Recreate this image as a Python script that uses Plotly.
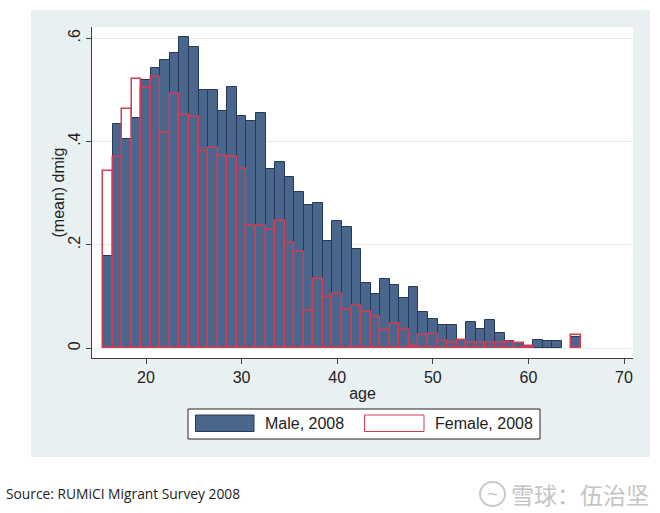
import plotly.graph_objects as go

# ---- data ----
ages = list(range(16, 66))
male_2008 = [0.179, 0.434, 0.406, 0.446, 0.519, 0.542, 0.557, 0.572, 0.603, 0.584,
             0.499, 0.499, 0.459, 0.506, 0.450, 0.440, 0.456, 0.347, 0.360, 0.332,
             0.303, 0.277, 0.281, 0.208, 0.246, 0.234, 0.193, 0.127, 0.106, 0.134,
             0.122, 0.098, 0.118, 0.071, 0.056, 0.045, 0.045, 0.017, 0.050, 0.037,
             0.055, 0.029, 0.014, 0.011, 0.005, 0.017, 0.015, 0.015, None, 0.021]
female_2008 = [0.343, 0.371, 0.463, 0.522, 0.503, 0.526, 0.417, 0.493, 0.451, 0.448,
               0.382, 0.387, 0.373, 0.371, 0.347, 0.237, 0.237, 0.228, 0.246, 0.203,
               0.187, 0.073, 0.134, 0.099, 0.106, 0.074, 0.082, 0.070, 0.061, 0.035,
               0.047, 0.035, 0.004, 0.026, 0.027, 0.015, 0.010, 0.017, 0.010, 0.010,
               0.011, 0.011, 0.013, 0.010, 0.005, None, None, None, None, 0.026]
series_names = ["Male, 2008", "Female, 2008"]
x_ticks = [20, 30, 40, 50, 60, 70]
y_ticks = [0, 0.2, 0.4, 0.6]
y_ticktext = ["0", ".2", ".4", ".6"]
x_title = "age"
y_title = "(mean) dmig"
source_text = "Source: RUMiCI Migrant Survey 2008"
watermark_text = "雪球：伍治坚"

# ---- styling ----
W, H = 660, 513
L, R, T, B = 92, 27, 27, 155
PW, PH = W - L - R, H - T - B
MALE_FILL = "#4a668c"
MALE_LINE = "#263a57"
FEM_LINE = "#d63a52"
PANEL = "#e9f0f1"
GRID = "#e3e9ea"
AXIS = "#404040"
FONT = "Liberation Sans"
TXT = "#222222"


def px(xp):
    return (xp - L) / PW


def py(yp):
    return (H - B - yp) / PH


fig = go.Figure()
fig.add_trace(go.Bar(x=ages, y=male_2008, width=1, name=series_names[0],
                     marker=dict(color=MALE_FILL, line=dict(color=MALE_LINE, width=1)),
                     showlegend=False))
fig.add_trace(go.Bar(x=ages, y=female_2008, width=1, name=series_names[1],
                     marker=dict(color="rgba(0,0,0,0)", line=dict(color=FEM_LINE, width=1.5)),
                     showlegend=False))

shapes = [
    dict(type="rect", xref="paper", yref="paper", x0=px(31), x1=px(650), y0=py(457), y1=py(10),
         fillcolor=PANEL, line=dict(width=0), layer="below"),
    dict(type="rect", xref="paper", yref="paper", x0=0, x1=1, y0=0, y1=1,
         fillcolor="white", line=dict(width=0), layer="below"),
    dict(type="rect", xref="paper", yref="paper", x0=px(188), x1=px(540), y0=py(439), y1=py(409),
         fillcolor="white", line=dict(color=TXT, width=1)),
    dict(type="rect", xref="paper", yref="paper", x0=px(195.5), x1=px(254), y0=py(431.5), y1=py(415),
         fillcolor=MALE_FILL, line=dict(color=MALE_LINE, width=1)),
    dict(type="rect", xref="paper", yref="paper", x0=px(364.5), x1=px(424), y0=py(431.5), y1=py(415),
         fillcolor="white", line=dict(color=FEM_LINE, width=1)),
    dict(type="circle", xref="paper", yref="paper", x0=px(480), x1=px(505), y0=py(506), y1=py(482),
         fillcolor="rgba(0,0,0,0)", line=dict(color="#c9c9c9", width=2)),
]

annotations = [
    dict(text=y_title, xref="paper", yref="paper", x=px(58), y=0.5, textangle=-90,
         xanchor="center", yanchor="middle", showarrow=False,
         font=dict(family=FONT, size=16, color=TXT)),
    dict(text=series_names[0], xref="paper", yref="paper", x=px(263), y=py(423.5),
         xanchor="left", yanchor="middle", showarrow=False,
         font=dict(family=FONT, size=16, color=TXT)),
    dict(text=series_names[1], xref="paper", yref="paper", x=px(433), y=py(423.5),
         xanchor="left", yanchor="middle", showarrow=False,
         font=dict(family=FONT, size=16, color=TXT)),
    dict(text=source_text, xref="paper", yref="paper", x=px(4), y=py(493),
         xanchor="left", yanchor="middle", showarrow=False,
         font=dict(family="Open Sans", size=13.8, color=TXT)),
    dict(text=watermark_text, xref="paper", yref="paper", x=px(651), y=py(494),
         xanchor="right", yanchor="middle", showarrow=False,
         font=dict(family="Noto Sans CJK SC", size=23, color="#c4c4c4")),
    dict(text="~", xref="paper", yref="paper", x=px(492.5), y=py(494),
         xanchor="center", yanchor="middle", showarrow=False,
         font=dict(family=FONT, size=18, color="#c4c4c4")),
]

fig.update_layout(
    width=W, height=H,
    margin=dict(l=L, r=R, t=T, b=B),
    paper_bgcolor="white", plot_bgcolor="white",
    barmode="overlay", bargap=0,
    shapes=shapes, annotations=annotations,
    showlegend=False,
    font=dict(family=FONT, size=16, color=TXT),
    xaxis=dict(range=[14.35, 70.94], tickvals=x_ticks, ticks="outside", ticklen=5,
               tickcolor=AXIS, showline=True, linecolor=AXIS, linewidth=1.2,
               showgrid=False, zeroline=False,
               tickfont=dict(family=FONT, size=16, color=TXT),
               title=dict(text=x_title, standoff=2, font=dict(family=FONT, size=16, color=TXT))),
    yaxis=dict(range=[-0.0188, 0.6218], tickvals=y_ticks, ticktext=y_ticktext,
               tickangle=-90, ticks="outside", ticklen=5, tickcolor=AXIS,
               showline=True, linecolor=AXIS, linewidth=1.2,
               showgrid=True, gridcolor=GRID, gridwidth=1, zeroline=False,
               tickfont=dict(family=FONT, size=16, color=TXT)),
)

fig.write_html("out.html", config={"displayModeBar": False},
               post_script="document.body.style.margin='0';document.body.style.overflow='hidden';")
